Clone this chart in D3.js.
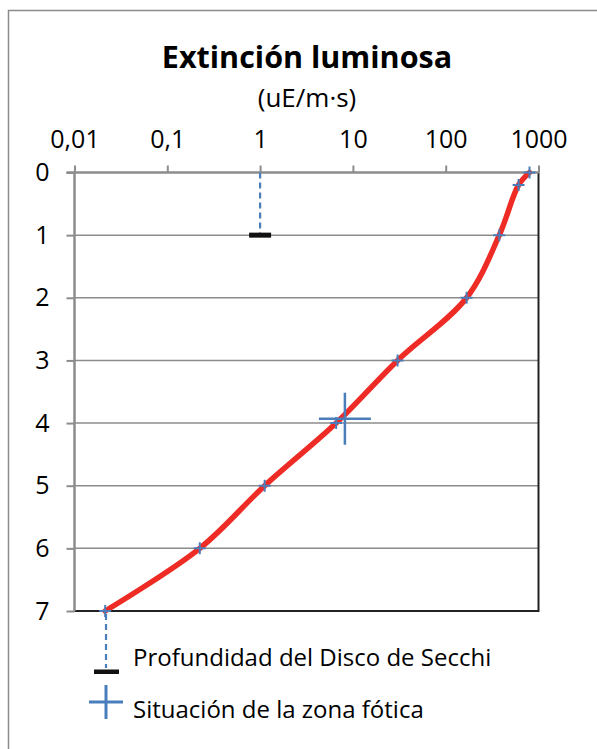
<!DOCTYPE html>
<html>
<head>
<meta charset="utf-8">
<script src="https://cdn.jsdelivr.net/npm/d3@7.9.0/dist/d3.min.js"></script>
<style>
  body { margin: 0; background: #fff; }
  svg { display: block; font-family: "Open Sans", Lato, sans-serif; }
</style>
</head>
<body>
<svg width="597" height="749"></svg>
<script>
const depths = [0, 0.2, 1, 2, 3, 4, 5, 6, 7];
const light = [800, 610, 378, 168, 30.3, 6.6, 1.12, 0.224, 0.0214];
const xTicks = [0.01, 0.1, 1, 10, 100, 1000];
const xTickLabels = ['0,01', '0,1', '1', '10', '100', '1000'];
const yTicks = [0, 1, 2, 3, 4, 5, 6, 7];
// Secchi disk depth and photic zone point
const secchi = { light: 1, depth: 1 };
const photic = { light: 8.2, depth: 3.93 };
const legendLabels = ['Profundidad del Disco de Secchi', 'Situación de la zona fótica'];

const svg = d3.select('svg');
const x = d3.scaleLog().domain([0.01, 1000]).range([74.5, 538.5]);
const y = d3.scaleLinear().domain([0, 7]).range([172.5, 611]);

// outer chart frame
svg.append('rect').attr('x', 8.5).attr('y', 10.5).attr('width', 620).attr('height', 800)
  .attr('fill', 'none').attr('stroke', '#8c8c8c').attr('stroke-width', 1.5);

// title
svg.append('text').attr('x', 307).attr('y', 68).attr('text-anchor', 'middle')
  .attr('font-size', 30.5).attr('font-weight', 'bold').text('Extinción luminosa');
svg.append('text').attr('x', 307).attr('y', 107).attr('text-anchor', 'middle')
  .attr('font-size', 26).text('(uE/m·s)');

// gridlines
svg.append('g').selectAll('line').data(yTicks.slice(1, -1)).join('line')
  .attr('x1', x(0.01)).attr('x2', x(1000))
  .attr('y1', d => y(d)).attr('y2', d => y(d))
  .attr('stroke', '#8c8c8c').attr('stroke-width', 1.5);

// plot border (right, bottom)
svg.append('path')
  .attr('d', `M${x(1000)},${y(0)}V${y(7)}H${x(0.01)}`)
  .attr('fill', 'none').attr('stroke', '#222').attr('stroke-width', 2);

// top x axis
const xAxis = svg.append('g').attr('transform', `translate(0,${y(0)})`)
  .call(d3.axisTop(x).tickValues(xTicks).tickFormat((d, i) => xTickLabels[i]).tickSize(7).tickPadding(18));
xAxis.select('.domain').attr('d', `M${x(0.01) - 8},0H${x(1000)}`);

// left y axis
const yAxis = svg.append('g').attr('transform', `translate(${x(0.01)},0)`)
  .call(d3.axisLeft(y).tickValues(yTicks).tickFormat(d3.format('d')).tickSize(8).tickPadding(17));
yAxis.select('.domain').attr('d', `M0,${y(0)}V${y(7)}`);

[xAxis, yAxis].forEach(g => {
  g.attr('font-size', 25).attr('font-family', '"Open Sans", Lato, sans-serif');
  g.selectAll('.domain').attr('stroke', '#8c8c8c').attr('stroke-width', 2.5);
  g.selectAll('.tick line').attr('stroke', '#8c8c8c').attr('stroke-width', 2);
  g.selectAll('.tick text').attr('fill', '#000');
});

// secchi dashed line and bar
svg.append('line').attr('x1', x(secchi.light)).attr('x2', x(secchi.light))
  .attr('y1', y(0)).attr('y2', y(secchi.depth))
  .attr('stroke', '#4a7ebb').attr('stroke-width', 2.2).attr('stroke-dasharray', '6,4');
svg.append('rect').attr('x', x(secchi.light) - 11).attr('y', y(secchi.depth) - 2.5)
  .attr('width', 22).attr('height', 5).attr('fill', '#111');

// red curve
const pts = depths.map((d, i) => [x(light[i]), y(d)]);
svg.append('path').datum(pts)
  .attr('d', d3.line().curve(d3.curveCatmullRom.alpha(0.5)))
  .attr('fill', 'none').attr('stroke', '#ee2b24').attr('stroke-width', 5.5)
  .attr('stroke-linecap', 'round');

// markers
function cross(g, cx, cy, r, w) {
  g.append('path').attr('d', `M${cx - r},${cy}H${cx + r}M${cx},${cy - r}V${cy + r}`)
    .attr('stroke', '#4a7ebb').attr('stroke-width', w).attr('fill', 'none');
}
const mk = svg.append('g');
pts.forEach(p => cross(mk, p[0], p[1], 6, 2));
cross(svg, x(photic.light), y(photic.depth), 26, 2.5);

// legend
const lg = svg.append('g');
lg.append('line').attr('x1', 106).attr('x2', 106).attr('y1', 614).attr('y2', 668)
  .attr('stroke', '#4a7ebb').attr('stroke-width', 2.2).attr('stroke-dasharray', '6,4');
lg.append('rect').attr('x', 94).attr('y', 669.5).attr('width', 25).attr('height', 4.5).attr('fill', '#111');
cross(lg, 106, 702, 17, 3);
lg.selectAll('text').data(legendLabels).join('text')
  .attr('x', 133).attr('y', (d, i) => 666 + i * 52)
  .attr('font-size', 24).text(d => d);
</script>
</body>
</html>
